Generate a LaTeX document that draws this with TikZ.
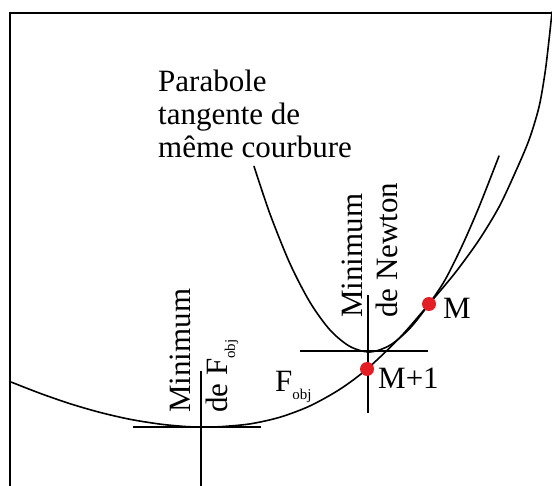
\documentclass[tikz,border=0pt]{standalone}
\usepackage{fontspec}
\setmainfont{Liberation Serif}
\definecolor{dotred}{RGB}{228,30,37}
\tikzset{
  curve/.style={line width=1.6pt, line join=round, line cap=round},
  crossline/.style={line width=1.6pt},
  frameline/.style={line width=2.2pt},
  lbl/.style={inner sep=0pt, font=\fontsize{31}{33}\selectfont},
  vlbl/.style={lbl, rotate=90, anchor=base west},
  hlbl/.style={lbl, anchor=base west},
  reddot/.style={circle, fill=dotred, inner sep=0pt, minimum size=14pt},
}
\newcommand{\subobj}{\raisebox{-8pt}{\fontsize{15}{15}\selectfont obj}}
\begin{document}
\begin{tikzpicture}[x=1pt,y=-1pt]
\useasboundingbox (0,0) rectangle (552,486);
\begin{scope}
\clip (0,0) rectangle (552,486);
% frame
\draw[frameline] (570,13) -- (10,13) -- (10,500);
% F_obj curve
\draw[curve] plot[smooth] coordinates {(11,382) (40,393.3) (70,403.7) (100,412.4) (130,419.3) (160,424.1) (185,426.5) (201,427) (220,426.7) (250,423.9) (280,417.2) (310,405.9) (340,389.2) (367,369) (400,337.4) (429,304) (455,273) (479,240) (499,207) (515,173) (529,140) (539,107) (545,73) (549,40) (552,12)};
% Newton parabola
\draw[curve] plot[smooth] coordinates {(254,166.3) (270,214) (290,263.7) (310,302.3) (330,330) (350,346.5) (370,352) (390,345.2) (410,328.2) (429,304) (445,280) (462,246) (479,207) (499,156)};
% crosses
\draw[crossline] (133,427) -- (261,427);
\draw[crossline] (201,371) -- (201,490);
\draw[crossline] (300,351) -- (428,351);
\draw[crossline] (368,295) -- (368,413);
\end{scope}
% labels
\node[hlbl] (t1) at (158,92) {Parabole};
\node[hlbl] (t2) at (158,125) {tangente de};
\node[hlbl] (t3) at (158,158) {même courbure};
\node[vlbl] (mf1) at (190,413) {Minimum};
\node[vlbl] (mf2) at (227,413) {de F\subobj};
\node[vlbl] (mn1) at (362,318) {Minimum};
\node[vlbl] (mn2) at (397,318) {de Newton};
\node[hlbl] (fl) at (275,392) {F\subobj};
\node[reddot] (M) at (429,304) {};
\node[reddot] (M1) at (367,369) {};
\node[hlbl] (Ml) at (443,319) {M};
\node[hlbl] (M1l) at (378,389) {M+1};
\end{tikzpicture}
\end{document}
